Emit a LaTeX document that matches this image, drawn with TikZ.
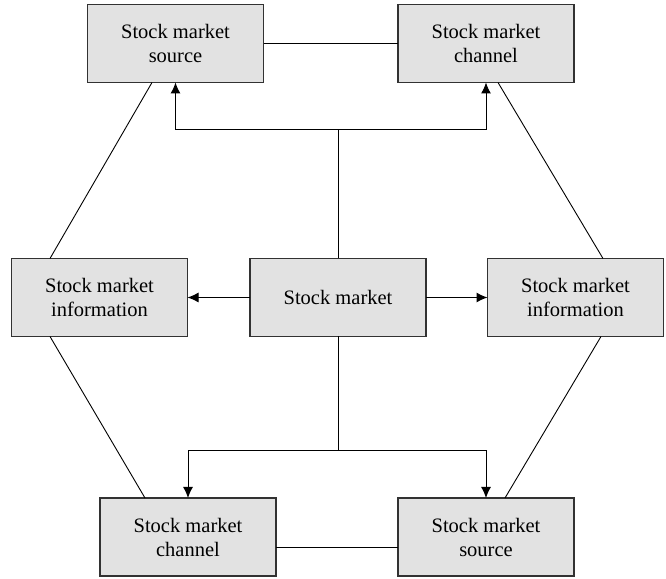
\documentclass[tikz,border=0pt]{standalone}
\usepackage{fontspec}
\setmainfont{Liberation Serif}
\usepackage{tikz}
\usetikzlibrary{arrows.meta,positioning,calc}
\definecolor{boxgray}{RGB}{226,226,226}
\definecolor{edgegray}{RGB}{50,50,50}

\begin{document}
\begin{tikzpicture}[x=1pt, y=1pt,
        box/.style={rectangle, draw=edgegray, line width=1.2pt, minimum width=176pt, minimum height=78pt, inner sep=0pt, outer sep=0pt, align=center, fill=boxgray, font=\fontsize{20.5}{24}\selectfont},
        link/.style={line width=0.9pt, black},
        arrow/.style={-{Latex[length=11pt, width=10pt]}, line width=1pt, black}]

        \useasboundingbox (0,0) rectangle (666,578);

        % Top row
        \node[box] (SRCA) at (175.5,534.5) {Stock market\\source};
        \node[box] (CHNA) at (486,534.5) {Stock market\\channel};

        % Middle row
        \node[box] (INFA) at (99.5,280.5) {Stock market\\information};
        \node[box] (MKT) at (338,280.5) {Stock market};
        \node[box] (INFB) at (575.5,280.5) {Stock market\\information};

        % Bottom row
        \node[box] (CHNB) at (188,41) {Stock market\\channel};
        \node[box] (SRCB) at (486,41) {Stock market\\source};

        % Branch points
        \coordinate (TOPJ) at (MKT.north |- 0,448);
        \coordinate (BOTJ) at (MKT.south |- 0,127);

        % Arrows from the centre
        \draw[link] (MKT.north) -- (TOPJ);
        \draw[arrow] (TOPJ) -| (SRCA.south);
        \draw[arrow] (TOPJ) -| (CHNA.south);
        \draw[link] (MKT.south) -- (BOTJ);
        \draw[arrow] (BOTJ) -| (CHNB.north);
        \draw[arrow] (BOTJ) -| (SRCB.north);
        \draw[arrow] (MKT.west) -- (INFA.east);
        \draw[arrow] (MKT.east) -- (INFB.west);

        % Outer ring
        \draw[link] (SRCA.east) -- (CHNA.west);
        \draw[link] ($(SRCA.south)+(-23.5,0)$) -- ($(INFA.north)+(-49.5,0)$);
        \draw[link] ($(CHNA.south)+(12,0)$) -- ($(INFB.north)+(27.5,0)$);
        \draw[link] ($(INFA.south)+(-49.5,0)$) -- ($(CHNB.north)+(-43,0)$);
        \draw[link] ($(INFB.south)+(25.5,0)$) -- ($(SRCB.north)+(19,0)$);
        \draw[link] ($(CHNB.east)+(0,-10)$) -- ($(SRCB.west)+(0,-10)$);

    \end{tikzpicture}
\end{document}
